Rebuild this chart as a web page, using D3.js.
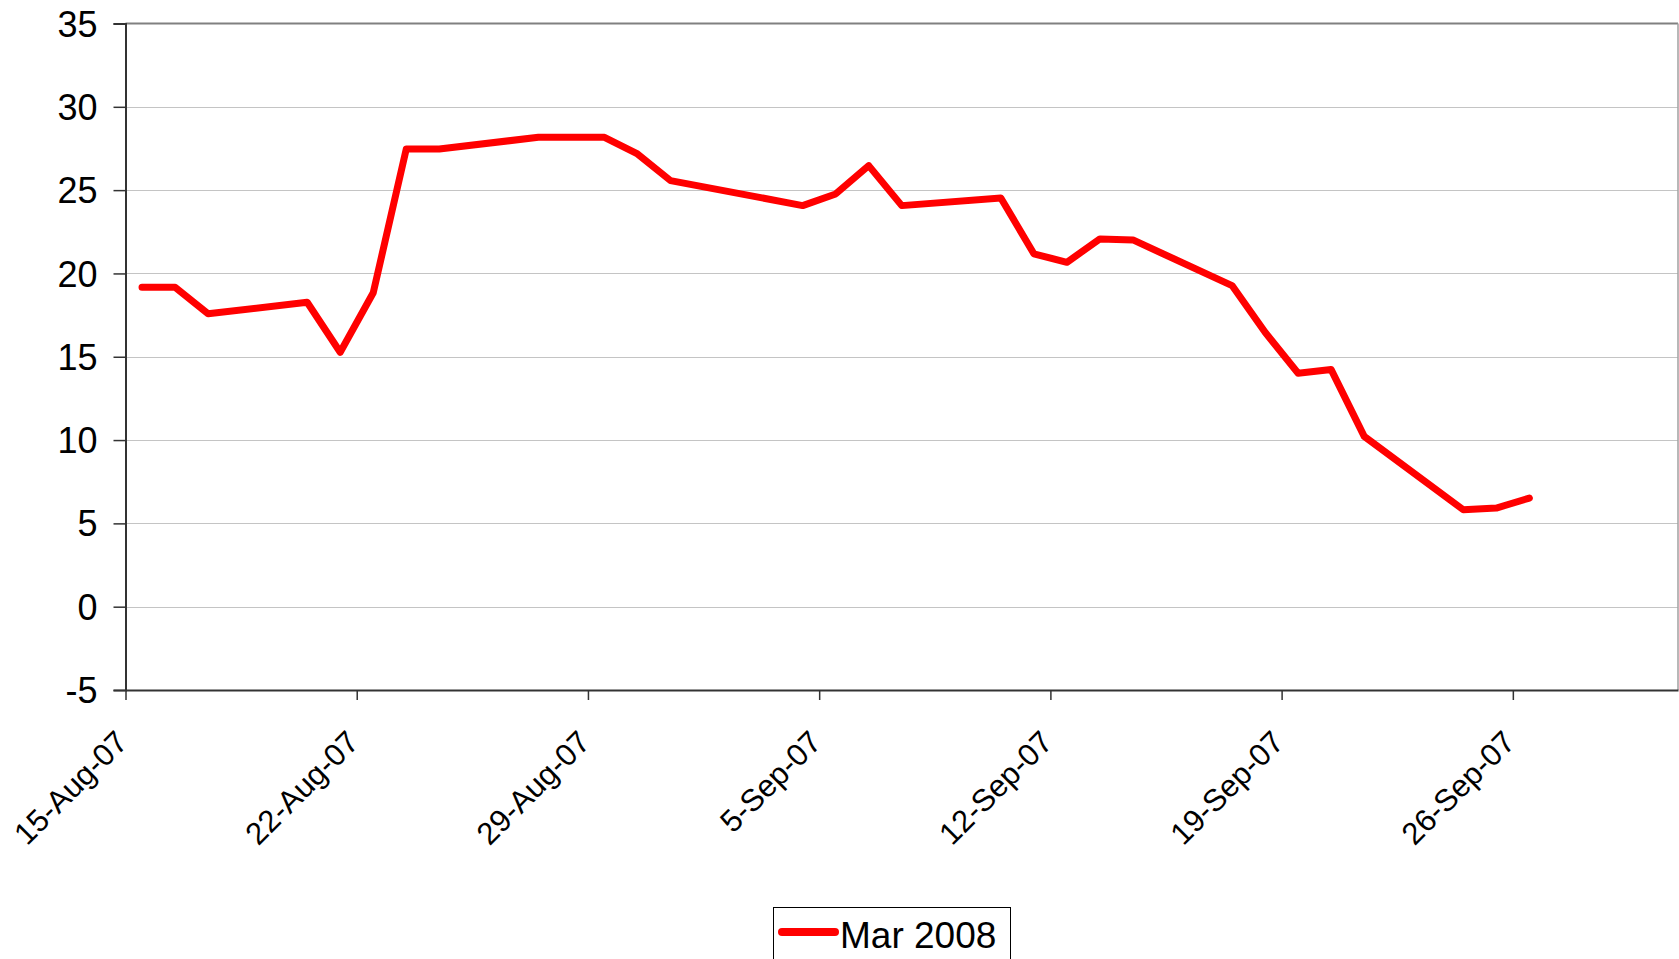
<!DOCTYPE html>
<html>
<head>
<meta charset="utf-8">
<script src="https://cdn.jsdelivr.net/npm/d3@7/dist/d3.min.js"></script>
<style>
  html, body { margin: 0; padding: 0; background: #fff; overflow: hidden; }
  svg { display: block; font-family: "Liberation Sans", Arial, sans-serif; }
</style>
</head>
<body>
<svg id="chart" width="1679" height="959"></svg>
<script>
// Trading dates (2007) and the Mar 2008 series values
const dates = [
  "2007-08-15", "2007-08-16", "2007-08-17", "2007-08-20", "2007-08-21",
  "2007-08-22", "2007-08-23", "2007-08-24", "2007-08-27", "2007-08-28",
  "2007-08-29", "2007-08-30", "2007-08-31", "2007-09-04", "2007-09-05",
  "2007-09-06", "2007-09-07", "2007-09-10", "2007-09-11", "2007-09-12",
  "2007-09-13", "2007-09-14", "2007-09-17", "2007-09-18", "2007-09-19",
  "2007-09-20", "2007-09-21", "2007-09-24", "2007-09-25", "2007-09-26"
];
const mar2008 = [
  19.17, 19.17, 17.58, 18.27, 15.27,
  18.84, 27.47, 27.47, 28.17, 28.17,
  28.17, 27.17, 25.57, 24.07, 24.77,
  26.47, 24.07, 24.53, 21.18, 20.67,
  22.07, 22.01, 19.27, 16.47, 14.01,
  14.23, 10.22, 5.82, 5.92, 6.52
];
const seriesName = "Mar 2008";
const xTickDates = ["2007-08-15", "2007-08-22", "2007-08-29", "2007-09-05", "2007-09-12", "2007-09-19", "2007-09-26"];
const xDomain = ["2007-08-15", "2007-10-01"];
const yTicks = [-5, 0, 5, 10, 15, 20, 25, 30, 35];

const parse = d3.utcParse("%Y-%m-%d");
const fmt = d3.utcFormat("%-d-%b-%y");
const DAY = 864e5;

const svg = d3.select("#chart");
const plot = { left: 125.5, top: 23.5, right: 1678, bottom: 690 };

const x = d3.scaleUtc()
  .domain(xDomain.map(parse))
  .range([plot.left, plot.right]);
const y = d3.scaleLinear()
  .domain([-5, 35])
  .range([plot.bottom, plot.top]);

// horizontal gridlines
svg.append("g")
  .selectAll("line")
  .data(yTicks.filter(v => v > -5 && v < 35))
  .join("line")
  .attr("x1", plot.left).attr("x2", plot.right)
  .attr("y1", d => Math.round(y(d)) + 0.5).attr("y2", d => Math.round(y(d)) + 0.5)
  .attr("stroke", "#c4c4c4").attr("stroke-width", 1);

// plot frame: top and right edges
svg.append("line")
  .attr("x1", plot.left).attr("x2", plot.right)
  .attr("y1", plot.top).attr("y2", plot.top)
  .attr("stroke", "#808080").attr("stroke-width", 2);
svg.append("line")
  .attr("x1", plot.right).attr("x2", plot.right)
  .attr("y1", plot.top).attr("y2", plot.bottom)
  .attr("stroke", "#a0a0a0").attr("stroke-width", 1.5);

// y axis
const yAxis = svg.append("g")
  .attr("transform", `translate(${plot.left},0)`)
  .call(d3.axisLeft(y).tickValues(yTicks).tickSize(12).tickPadding(16).tickFormat(d => String(d)));
yAxis.select(".domain").attr("stroke", "#333").attr("stroke-width", 2);
yAxis.selectAll(".tick line").attr("stroke", "#333").attr("stroke-width", 1.5);
yAxis.selectAll(".tick text")
  .attr("font-size", 36)
  .attr("font-family", "'Liberation Sans', Arial, sans-serif")
  .attr("fill", "#000")
  .attr("dy", "0.35em");

// x axis
const xAxis = svg.append("g")
  .attr("transform", `translate(0,${plot.bottom})`)
  .call(d3.axisBottom(x).tickValues(xTickDates.map(parse)).tickSize(10).tickSizeOuter(0).tickFormat(""));
xAxis.select(".domain").attr("stroke", "#333").attr("stroke-width", 2);
xAxis.selectAll(".tick line").attr("stroke", "#333").attr("stroke-width", 1.5);

svg.append("g")
  .selectAll("text")
  .data(xTickDates.map(parse))
  .join("text")
  .attr("transform", d => `translate(${x(d) + 4},744) rotate(-45)`)
  .attr("text-anchor", "end")
  .attr("font-size", 31)
  .attr("fill", "#000")
  .text(d => fmt(d));

// series line, each day plotted at the middle of its day slot
const pts = dates.map((d, i) => ({ t: new Date(parse(d).getTime() + DAY / 2), v: mar2008[i] }));
svg.append("path")
  .datum(pts)
  .attr("fill", "none")
  .attr("stroke", "#ff0000")
  .attr("stroke-width", 7)
  .attr("stroke-linejoin", "round")
  .attr("stroke-linecap", "round")
  .attr("d", d3.line().x(d => x(d.t)).y(d => y(d.v)));

// legend
const lg = svg.append("g");
lg.append("rect")
  .attr("x", 773.5).attr("y", 907.5)
  .attr("width", 237).attr("height", 70)
  .attr("fill", "#fff").attr("stroke", "#000").attr("stroke-width", 1);
lg.append("line")
  .attr("x1", 782).attr("x2", 835)
  .attr("y1", 932).attr("y2", 932)
  .attr("stroke", "#ff0000").attr("stroke-width", 8)
  .attr("stroke-linecap", "round");
lg.append("text")
  .attr("x", 840).attr("y", 948)
  .attr("font-size", 37)
  .attr("fill", "#000")
  .text(seriesName);
</script>
</body>
</html>
